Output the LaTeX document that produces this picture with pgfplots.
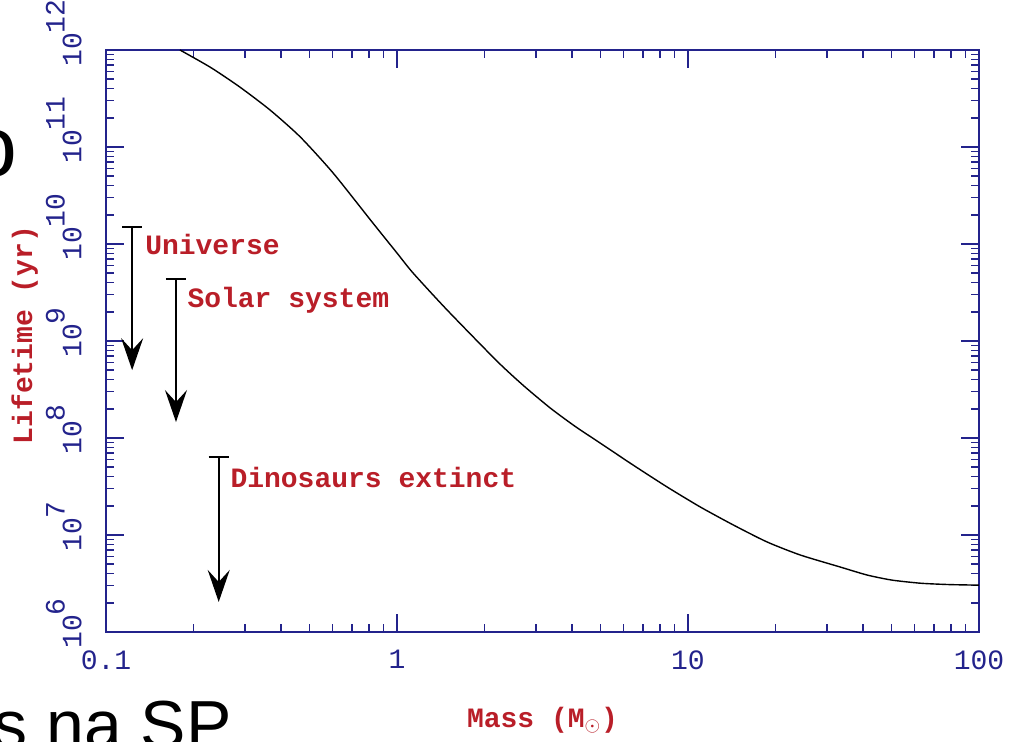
\documentclass[border=0pt]{standalone}
\usepackage{fontspec}
\usepackage{pgfplots}
\pgfplotsset{compat=1.18}
\usetikzlibrary{arrows.meta}
\newfontfamily\pgfont{Liberation Mono}
\newfontfamily\slidefont{Liberation Sans}
\definecolor{axisblue}{RGB}{35,35,140}
\definecolor{labelred}{RGB}{185,30,40}

\begin{document}
\begin{tikzpicture}
\useasboundingbox (0,0) rectangle (504.5pt,371pt);
\clip (0,0) rectangle (504.5pt,371pt);
\fill[white] (0,0) rectangle (504.5pt,371pt);
% slide text cut off at the edges
\node[anchor=base east, inner sep=0, font=\slidefont\fontsize{43}{50}\selectfont] at (9pt,282.5pt) {o};
\node[anchor=base east, inner sep=0, font=\slidefont\fontsize{34}{40}\selectfont] at (116pt,-3.5pt) {s na SP};

\begin{axis}[
    at={(53pt,55pt)}, anchor=south west,
    scale only axis,
    width=436.5pt, height=291pt,
    xmode=log, ymode=log,
    xmin=0.1, xmax=100, ymin=1e6, ymax=1e12,
    xtick={0.1,1,10,100},
    xticklabels={0.1,1,10,100},
    ytick={1e6,1e7,1e8,1e9,1e10,1e11,1e12},
    yticklabels={10\rlap{\raisebox{.6em}{6}},10\rlap{\raisebox{.6em}{7}},10\rlap{\raisebox{.6em}{8}},
        10\rlap{\raisebox{.6em}{9}},10\rlap{\raisebox{.6em}{10}},10\rlap{\raisebox{.6em}{11}},10\rlap{\raisebox{.6em}{12}}},
    axis line style={axisblue, line width=1pt},
    every tick/.style={axisblue, line width=0.8pt},
    major tick length=9pt, minor tick length=4pt,
    tick align=inside,
    tick label style={font=\pgfont\fontsize{14}{16}\selectfont, text=axisblue, inner sep=0pt},
    xticklabel shift=9pt,
    yticklabel style={rotate=90, anchor=south},
    yticklabel shift=12pt,
    label style={font=\pgfont\bfseries\fontsize{14}{16}\selectfont, text=labelred},
    xlabel={Mass (M$_\odot$)},
    ylabel={Lifetime (yr)},
    xlabel style={at={(axis description cs:0.5,-0.151)}, anchor=center},
    ylabel style={at={(axis description cs:-0.093,0.51)}, anchor=center},
]
% main-sequence lifetime
\addplot[black, line width=0.7pt, smooth, tension=0.4] coordinates {
    (0.1795,1.0e12) (0.229,6.6e11) (0.288,4.16e11) (0.366,2.41e11) (0.465,1.27e11)
    (0.603,5.40e10) (0.827,1.64e10) (1.0,8.07e9) (1.135,5.03e9)
    (1.486,2.09e9) (2.21,6.17e8) (2.72,3.47e8) (3.36,2.04e8) (4.09,1.32e8) (4.99,8.87e7)
    (6.47,5.27e7) (8.47,3.13e7) (11.0,1.95e7) (14.3,1.27e7)
    (18.7,8.47e6) (24.3,6.22e6) (33.3,4.68e6) (41.2,3.87e6)
    (50.1,3.43e6) (63.1,3.18e6) (79.4,3.08e6) (100,3.04e6)
};
% time markers
\addplot[black, line width=0.8pt, arrows={Bar[width=10pt]-Stealth[length=16pt,width=11pt,inset=6pt]}]
    coordinates {(0.123,1.53e10) (0.123,5.0e8)};
\addplot[black, line width=0.8pt, arrows={Bar[width=10pt]-Stealth[length=16pt,width=11pt,inset=6pt]}]
    coordinates {(0.174,4.46e9) (0.174,1.46e8)};
\addplot[black, line width=0.8pt, arrows={Bar[width=10pt]-Stealth[length=16pt,width=11pt,inset=6pt]}]
    coordinates {(0.244,6.5e7) (0.244,2.04e6)};
\node[anchor=base west, inner sep=0, font=\pgfont\bfseries\fontsize{14}{16}\selectfont, text=labelred]
    at (axis cs:0.136,7.7e9) {Universe};
\node[anchor=base west, inner sep=0, font=\pgfont\bfseries\fontsize{14}{16}\selectfont, text=labelred]
    at (axis cs:0.190,2.24e9) {Solar system};
\node[anchor=base west, inner sep=0, font=\pgfont\bfseries\fontsize{14}{16}\selectfont, text=labelred]
    at (axis cs:0.267,3.06e7) {Dinosaurs extinct};
\end{axis}
\end{tikzpicture}
\end{document}
